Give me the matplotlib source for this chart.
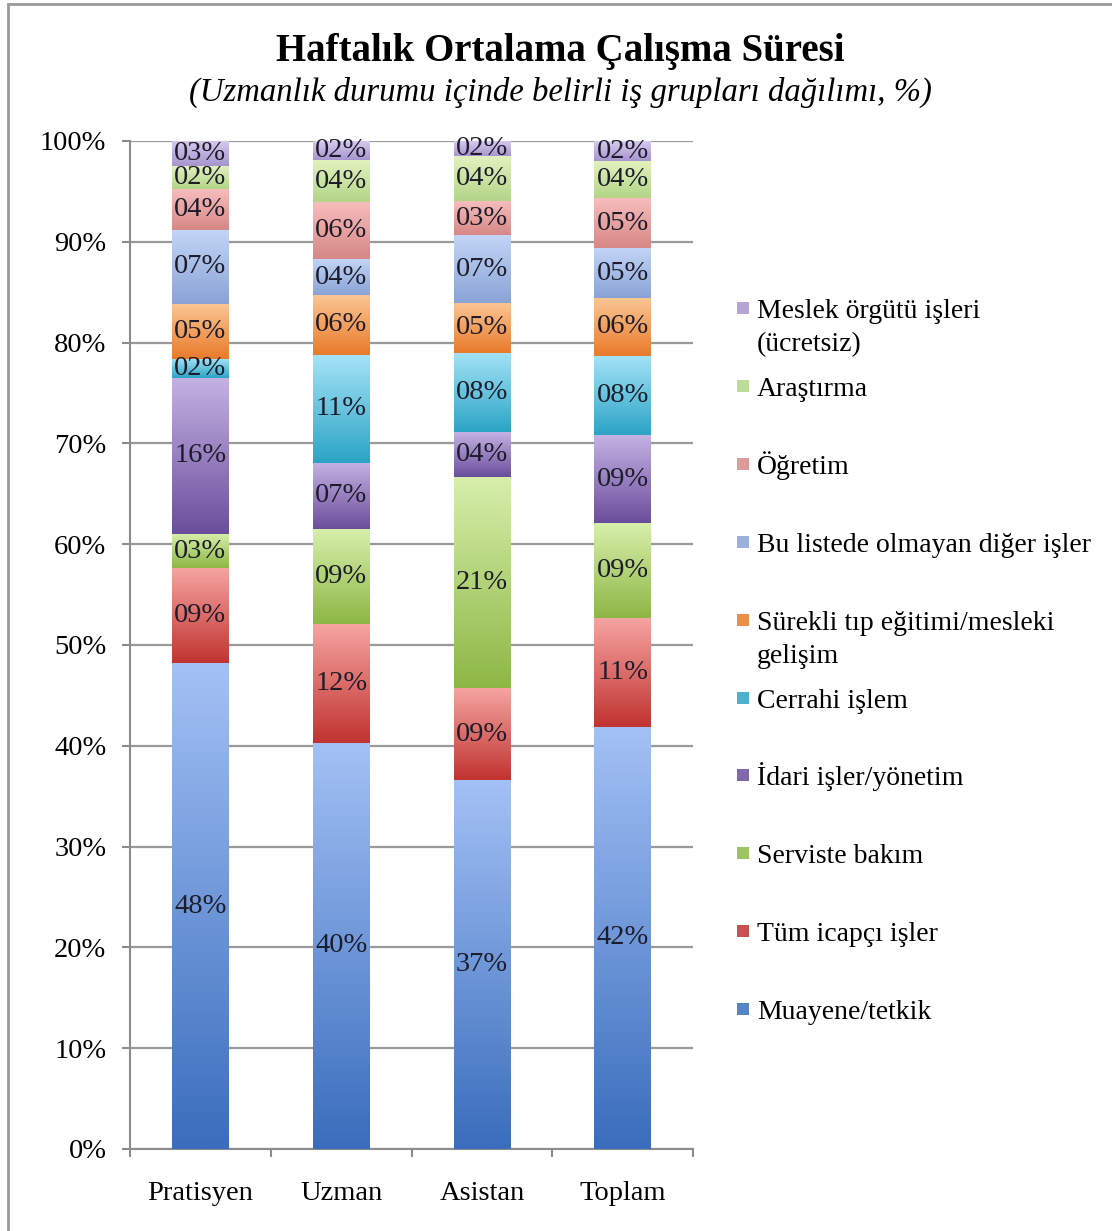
import numpy as np
import matplotlib.pyplot as plt
from matplotlib.colors import LinearSegmentedColormap
from matplotlib.patches import Rectangle

plt.rcParams['font.family'] = ['Liberation Serif', 'DejaVu Serif']

groups = ["Pratisyen", "Uzman", "Asistan", "Toplam"]

# series from bottom to top of each stack
series = ["Muayene/tetkik", "Tüm icapçı işler", "Serviste bakım", "İdari işler/yönetim",
          "Cerrahi işlem", "Sürekli tıp eğitimi/mesleki\ngelişim",
          "Bu listede olmayan diğer işler", "Öğretim", "Araştırma",
          "Meslek örgütü işleri\n(ücretsiz)"]

muayene = [48.2, 40.3, 36.6, 41.9]
icapci = [9.4, 11.8, 9.1, 10.8]
serviste = [3.4, 9.4, 21.0, 9.4]
idari = [15.5, 6.6, 4.4, 8.7]
cerrahi = [1.9, 10.7, 7.9, 7.9]
surekli = [5.4, 5.9, 4.9, 5.7]
diger = [7.4, 3.6, 6.8, 5.0]
ogretim = [4.0, 5.6, 3.3, 4.9]
arastirma = [2.3, 4.2, 4.5, 3.7]
meslek = [2.6, 1.9, 1.5, 2.0]

values = [muayene, icapci, serviste, idari, cerrahi, surekli, diger, ogretim, arastirma, meslek]

# (top, bottom) gradient colours per series
colors = [("#a3c1f5", "#3a6dbd"), ("#f6a4a1", "#c13330"), ("#d7efab", "#8db745"),
          ("#c5b2e3", "#6a4e9c"), ("#a5e3f7", "#2ba4c6"), ("#fbc593", "#e97a2a"),
          ("#c3d6f7", "#8aa3d6"), ("#f7bcbc", "#d68886"), ("#e3f2c0", "#b3d587"),
          ("#d9cdef", "#a795cf")]

W, H = 1112, 1231
fig = plt.figure(figsize=(W / 100, H / 100), dpi=100)
ax = fig.add_axes([130 / W, 1 - 1149 / H, (693 - 130) / W, (1149 - 141) / H])

x = np.arange(len(groups))
bottom = np.zeros(len(groups))
for vals, (ctop, cbot) in zip(values, colors):
    bars = ax.bar(x, vals, 0.40, bottom=bottom, facecolor="none", edgecolor="none", zorder=3)
    cmap = LinearSegmentedColormap.from_list("g", [cbot, ctop])
    grad = np.linspace(0, 1, 256).reshape(-1, 1)
    for b, v in zip(bars, vals):
        x0, y0, w, h = b.get_x(), b.get_y(), b.get_width(), b.get_height()
        ax.imshow(grad, cmap=cmap, origin="lower", aspect="auto",
                  extent=(x0, x0 + w, y0, y0 + h), zorder=3, interpolation="bilinear")
        ax.text(x0 + w / 2, y0 + h / 2, f"{round(v):02d}%", ha="center", va="center",
                fontsize=20.5, color="#1c1c2a", zorder=5)
    bottom += np.array(vals)

ax.set_xlim(-0.5, len(groups) - 0.5)
ax.set_ylim(0, 100)
ax.set_yticks(np.arange(0, 101, 10))
ax.set_yticklabels([f"{t}%" for t in range(0, 101, 10)], fontsize=20.5)
ax.set_xticks(x)
ax.set_xticklabels(groups, fontsize=20.5)
ax.set_xticks(np.arange(-0.5, len(groups), 1), minor=True)
ax.tick_params(axis="x", which="major", length=0, pad=23)
ax.tick_params(axis="x", which="minor", length=6, width=1.5, color="#8c8c8c", direction="out")
ax.tick_params(axis="y", length=6, width=1.5, color="#8c8c8c", pad=11)
ax.yaxis.grid(True, color="#9a9a9a", linewidth=1.6, zorder=0)
ax.set_axisbelow(True)
for s in ["top", "right"]:
    ax.spines[s].set_visible(False)
for s in ["left", "bottom"]:
    ax.spines[s].set_color("#8c8c8c")
    ax.spines[s].set_linewidth(1.5)

fig.text(560 / W, 1 - 61 / H, "Haftalık Ortalama Çalışma Süresi", ha="center", va="baseline",
         fontsize=28, fontweight="bold")
fig.text(560 / W, 1 - 101 / H, "(Uzmanlık durumu içinde belirli iş grupları dağılımı, %)",
         ha="center", va="baseline", fontsize=23.6, style="italic")

# legend, top entry = last series
for i, (name, (ctop, cbot)) in enumerate(zip(series[::-1], colors[::-1])):
    yc = 310 + i * 77.9
    fig.patches.append(Rectangle((737 / W, 1 - (yc + 4) / H), 12 / W, 12 / H,
                                 transform=fig.transFigure, facecolor=cbot, alpha=0.85,
                                 edgecolor="none"))
    for j, line in enumerate(name.split("\n")):
        fig.text(757 / W, 1 - (yc + 8 + 33 * j) / H, line, ha="left", va="baseline",
                 fontsize=20)

# outer frame
fig.patches.append(Rectangle((8 / W, -0.05), 1.1, 1 - 4 / H + 0.05, transform=fig.transFigure,
                             facecolor="none", edgecolor="#9a9a9a", linewidth=2))

fig.savefig("out.png", dpi=100)
